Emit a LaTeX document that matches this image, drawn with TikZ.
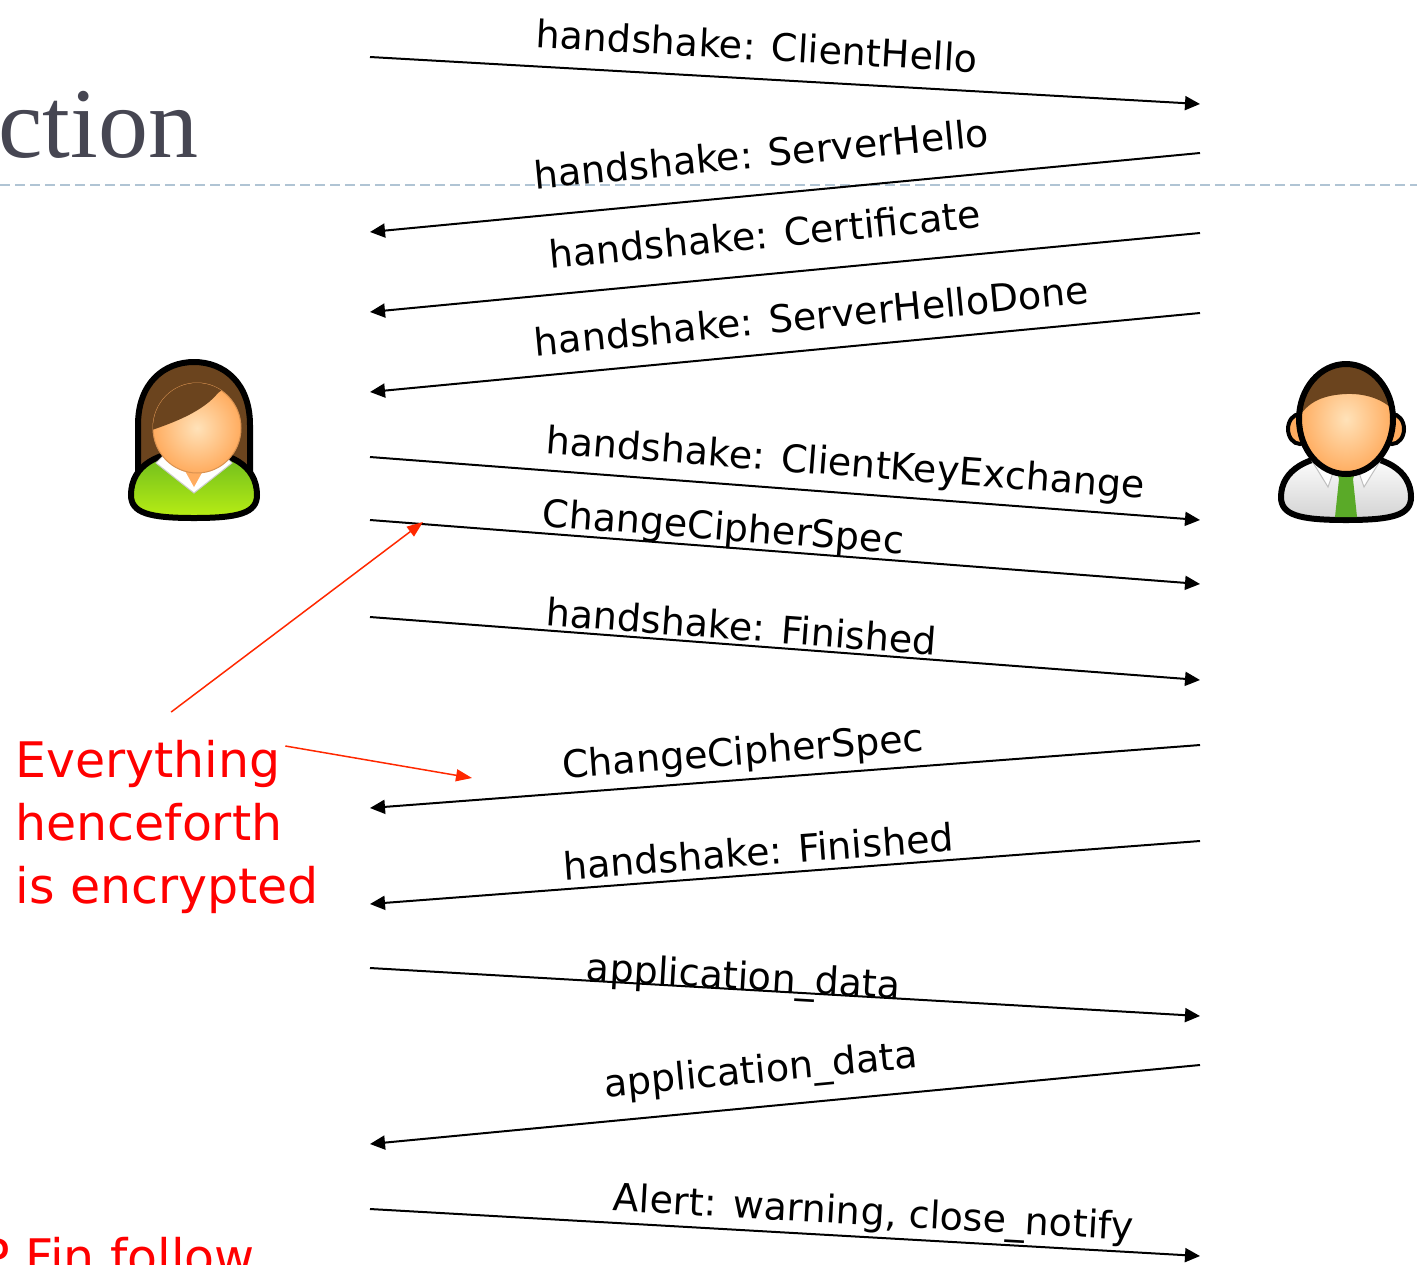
\documentclass[tikz,border=0pt]{standalone}
\usepackage{fontspec}
\usetikzlibrary{arrows.meta}
\newfontfamily\msgfont{DejaVu Sans}
\newfontfamily\titlefont{Liberation Serif}
\definecolor{titlegray}{RGB}{70,70,82}
\definecolor{rulegray}{RGB}{176,196,212}
\definecolor{notered}{RGB}{255,0,0}
\definecolor{arrowred}{RGB}{255,40,0}
\definecolor{hair}{RGB}{107,68,30}
\definecolor{skinin}{RGB}{255,226,185}
\definecolor{skinout}{RGB}{255,172,95}
\definecolor{shirttop}{RGB}{105,185,30}
\definecolor{shirtbot}{RGB}{185,238,20}
\definecolor{tie}{RGB}{90,170,40}

\tikzset{
  msg/.style={line width=1pt, -{Triangle[length=7.5pt,width=7pt]}},
  lbl/.style={sloped, anchor=base, inner sep=0pt, font=\msgfont\fontsize{19}{22}\selectfont},
  note/.style={text=notered, align=left, inner sep=0pt, font=\msgfont\fontsize{24.5}{31.5}\selectfont},
  notearrow/.style={draw=arrowred, line width=0.75pt, -{Triangle[length=8pt,width=6pt]}},
  outline/.style={draw=black, line width=3pt},
}

\begin{document}
\begin{tikzpicture}[x=0.5pt, y=-0.5pt]
  \useasboundingbox (0,0) rectangle (1417,1264);
  \clip (0,0) rectangle (1417,1264);

  % slide title and rule
  \draw[rulegray, line width=1pt, dash pattern=on 5pt off 2.5pt] (0,185) -- (1417,185);
  \node[anchor=base west, inner sep=0pt, text=titlegray, font=\titlefont\fontsize{50}{52}\selectfont] (title) at (-2,157) {ction};

  % end points of the messages
  \coordinate (c1) at (370,57);    \coordinate (s1) at (1200,104);
  \coordinate (c2) at (370,232);   \coordinate (s2) at (1200,153);
  \coordinate (c3) at (370,312);   \coordinate (s3) at (1200,233);
  \coordinate (c4) at (370,392);   \coordinate (s4) at (1200,313);
  \coordinate (c5) at (370,457);   \coordinate (s5) at (1200,520);
  \coordinate (c6) at (370,520);   \coordinate (s6) at (1200,584);
  \coordinate (c7) at (370,617);   \coordinate (s7) at (1200,680);
  \coordinate (c8) at (370,808);   \coordinate (s8) at (1200,745);
  \coordinate (c9) at (370,904);   \coordinate (s9) at (1200,841);
  \coordinate (c10) at (370,968);  \coordinate (s10) at (1200,1016);
  \coordinate (c11) at (370,1144); \coordinate (s11) at (1200,1065);
  \coordinate (c12) at (370,1209); \coordinate (s12) at (1200,1256);

  \path[msg]
    (c1) edge node[lbl, pos=.464, yshift=9.5pt] {handshake: ClientHello} (s1)
    (s2) edge node[lbl, pos=.524, yshift=13.5pt] {handshake: ServerHello} (c2)
    (s3) edge node[lbl, pos=.52, yshift=13pt] {handshake: Certificate} (c3)
    (s4) edge node[lbl, pos=.464, yshift=10pt] {handshake: ServerHelloDone} (c4)
    (c5) edge node[lbl, pos=.57, yshift=8.5pt] {handshake: ClientKeyExchange} (s5)
    (c6) edge node[lbl, pos=.424, yshift=3.5pt] {ChangeCipherSpec} (s6)
    (c7) edge node[lbl, pos=.446, yshift=2.5pt] {handshake: Finished} (s7)
    (s8) edge node[lbl, pos=.548, yshift=7.5pt] {ChangeCipherSpec} (c8)
    (s9) edge node[lbl, pos=.53, yshift=4.5pt] {handshake: Finished} (c9)
    (c10) edge node[lbl, pos=.449, yshift=0pt] {application\_data} (s10)
    (s11) edge node[lbl, pos=.525, yshift=12pt] {application\_data} (c11)
    (c12) edge node[lbl, pos=.605, yshift=6pt] {Alert: warning, close\_notify} (s12);

  % red remark
  \node[note, anchor=north west] (enc) at (15,740) {Everything\\henceforth\\is encrypted};
  \node[note, anchor=base west] (fin) at (-20,1274) {P Fin follow};
  \coordinate (ccs) at (423,522);
  \coordinate (scs) at (472,778);
  \draw[notearrow] ([xshift=2pt,yshift=14pt]enc.north) -- (ccs);
  \draw[notearrow] ([xshift=-17pt,yshift=-3pt]enc.north east) -- (scs);

  % client (woman)
  \coordinate (client) at (194,425);
  \begin{scope}[shift={(client)}]
    \path[outline, fill=hair] (-56,55) -- (-56,0) .. controls (-56,-42) and (-30,-63) .. (0,-63)
      .. controls (30,-63) and (56,-42) .. (56,0) -- (56,55) -- cycle;
    \path[outline, top color=shirttop, bottom color=shirtbot] (-63,70) .. controls (-63,40) and (-35,26) .. (0,26)
      .. controls (35,26) and (63,40) .. (63,70) .. controls (63,88) and (45,93) .. (0,93)
      .. controls (-45,93) and (-63,88) .. (-63,70) -- cycle;
    \path[fill=white, draw=gray!40, line width=0.5pt] (-38,38) -- (-28,28) -- (28,28) -- (38,38) -- (0,68) -- cycle;
    \path[fill=skinout] (-20,26) -- (0,62) -- (20,26) -- cycle;
    \path[inner color=skinin, outer color=skinout, draw=skinout!85!black, line width=0.5pt]
      (3,3) ellipse [x radius=44, y radius=45];
    \begin{scope}
      \clip (3,3) ellipse [x radius=44, y radius=45];
      \fill[hair] (-45,6) .. controls (-15,-4) and (10,-15) .. (24,-32) -- (60,-60) -- (-60,-60) -- cycle;
    \end{scope}
  \end{scope}

  % server (man)
  \coordinate (server) at (1346,425);
  \begin{scope}[shift={(server)}]
    \path[outline, top color=white, bottom color=gray!35] (-65,72) .. controls (-65,45) and (-38,30) .. (0,30)
      .. controls (38,30) and (65,45) .. (65,72) .. controls (65,90) and (47,95) .. (0,95)
      .. controls (-47,95) and (-65,90) .. (-65,72) -- cycle;
    \path[fill=white, draw=gray!50, line width=0.5pt] (-34,36) -- (-11,42) -- (-18,62) -- cycle;
    \path[fill=white, draw=gray!50, line width=0.5pt] (34,36) -- (11,42) -- (18,62) -- cycle;
    \path[fill=tie] (-11,42) -- (11,42) -- (7,54) -- (-7,54) -- cycle;
    \path[fill=tie] (-7,54) -- (7,54) -- (11,92) -- (-11,92) -- cycle;
    \path[draw=black, line width=2pt, fill=skinout] (-46,4) ellipse [x radius=12, y radius=15];
    \path[draw=black, line width=2pt, fill=skinout] (46,4) ellipse [x radius=12, y radius=15];
    \path[inner color=skinin, outer color=skinout] (0,-6) ellipse [x radius=47, y radius=55];
    \begin{scope}
      \clip (0,-6) ellipse [x radius=47, y radius=55];
      \fill[hair] (-50,-2) .. controls (-40,-25) and (-20,-30) .. (0,-31)
        .. controls (25,-32) and (42,-22) .. (50,-12) -- (50,-70) -- (-50,-70) -- cycle;
    \end{scope}
    \path[outline] (0,-6) ellipse [x radius=47, y radius=55];
  \end{scope}
\end{tikzpicture}
\end{document}
